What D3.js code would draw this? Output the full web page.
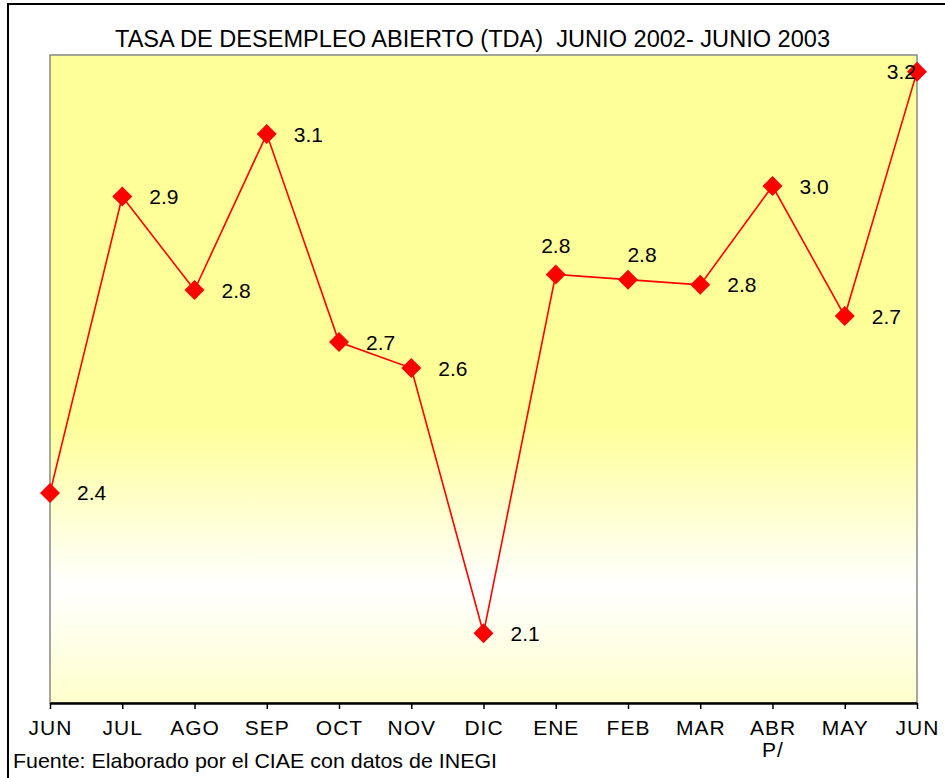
<!DOCTYPE html>
<html>
<head>
<meta charset="utf-8">
<script src="https://cdn.jsdelivr.net/npm/d3@7"></script>
<style>
  body { margin: 0; background: #fff; }
  text { font-family: "Liberation Sans", Arial, sans-serif; }
</style>
</head>
<body>
<div id="chart"></div>
<script>
// Data
const months = ["JUN", "JUL", "AGO", "SEP", "OCT", "NOV", "DIC", "ENE", "FEB", "MAR", "ABR", "MAY", "JUN"];
const monthNotes = ["", "", "", "", "", "", "", "", "", "", "P/", "", ""];
const tda = [2.37, 2.94, 2.76, 3.06, 2.66, 2.61, 2.10, 2.79, 2.78, 2.77, 2.96, 2.71, 3.18];
// where each value label sits relative to its marker
const labelPlacement = ["right", "right", "right", "right", "right", "right", "right",
                        "above", "aboveRight", "right", "right", "right", "left"];

const width = 945;
const height = 778;
const plot = { left: 50, right: 917, top: 55, bottom: 703 };

const svg = d3.select("#chart")
    .append("svg")
    .attr("width", width)
    .attr("height", height);

// Chart area border (runs off the right and bottom of the picture)
svg.append("rect")
    .attr("x", 8)
    .attr("y", 4)
    .attr("width", width + 20)
    .attr("height", height + 20)
    .attr("fill", "#fff")
    .attr("stroke", "#000")
    .attr("stroke-width", 2);

// Background gradient of the plot area
const grad = svg.append("defs").append("linearGradient")
    .attr("id", "bg")
    .attr("x1", 0).attr("y1", 0).attr("x2", 0).attr("y2", 1);
grad.append("stop").attr("offset", "0%").attr("stop-color", "#ffff99");
grad.append("stop").attr("offset", "57%").attr("stop-color", "#ffff99");
grad.append("stop").attr("offset", "82%").attr("stop-color", "#ffffff");
grad.append("stop").attr("offset", "100%").attr("stop-color", "#ffffcc");

svg.append("rect")
    .attr("x", plot.left)
    .attr("y", plot.top)
    .attr("width", plot.right - plot.left)
    .attr("height", plot.bottom - plot.top)
    .attr("fill", "url(#bg)")
    .attr("stroke", "#888")
    .attr("stroke-width", 1.5);

// Scales
const xScale = d3.scalePoint()
    .domain(d3.range(months.length))
    .range([plot.left, plot.right]);

const yScale = d3.scaleLinear()
    .domain([1.966, 3.212])
    .range([plot.bottom, plot.top]);

// X axis
const xAxis = svg.append("g")
    .attr("transform", `translate(0, ${plot.bottom})`)
    .call(d3.axisBottom(xScale)
        .tickSize(6)
        .tickSizeOuter(0)
        .tickPadding(11)
        .tickFormat(i => months[i]));

xAxis.select(".domain").attr("stroke", "#000").attr("stroke-width", 2.5);
xAxis.selectAll(".tick line").attr("stroke", "#000").attr("stroke-width", 1.5);
xAxis.selectAll(".tick text")
    .attr("font-size", "21px")
    .attr("fill", "#000")
    .attr("letter-spacing", "1px")
    .each(function(i) {
        if (monthNotes[i]) {
            d3.select(this).append("tspan")
                .attr("x", 0)
                .attr("dy", "1.05em")
                .text(monthNotes[i]);
        }
    });

// Title
svg.append("text")
    .attr("x", 115)
    .attr("y", 47)
    .attr("font-size", "23px")
    .attr("textLength", 715)
    .attr("lengthAdjust", "spacingAndGlyphs")
    .text("TASA DE DESEMPLEO ABIERTO (TDA)\u00a0\u00a0JUNIO 2002- JUNIO 2003");

// Source note
svg.append("text")
    .attr("x", 13)
    .attr("y", 768)
    .attr("font-size", "21px")
    .attr("textLength", 484)
    .attr("lengthAdjust", "spacingAndGlyphs")
    .text("Fuente: Elaborado por el CIAE con datos de INEGI");

// Line
const line = d3.line()
    .x((d, i) => xScale(i))
    .y(d => yScale(d));

svg.append("path")
    .datum(tda)
    .attr("fill", "none")
    .attr("stroke", "#ff0000")
    .attr("stroke-width", 1.6)
    .attr("d", line);

// Diamond markers
svg.selectAll(".marker")
    .data(tda)
    .enter()
    .append("path")
    .attr("class", "marker")
    .attr("d", d3.symbol().type(d3.symbolSquare).size(200))
    .attr("transform", (d, i) => `translate(${xScale(i)}, ${yScale(d)}) rotate(45)`)
    .attr("fill", "#ff0000");

// Value labels
svg.selectAll(".label")
    .data(tda)
    .enter()
    .append("text")
    .attr("class", "label")
    .attr("font-size", "21px")
    .attr("fill", "#000")
    .attr("dy", "0.36em")
    .attr("x", (d, i) => {
        const p = labelPlacement[i];
        if (p === "above") return xScale(i);
        if (p === "aboveRight") return xScale(i) + 14;
        if (p === "left") return xScale(i) - 1;
        return xScale(i) + 27;
    })
    .attr("y", (d, i) => {
        const p = labelPlacement[i];
        if (p === "above") return yScale(d) - 29;
        if (p === "aboveRight") return yScale(d) - 25;
        return yScale(d);
    })
    .attr("text-anchor", (d, i) => {
        const p = labelPlacement[i];
        if (p === "above" || p === "aboveRight") return "middle";
        if (p === "left") return "end";
        return "start";
    })
    .text(d => d3.format(".1f")(d));
</script>
</body>
</html>
